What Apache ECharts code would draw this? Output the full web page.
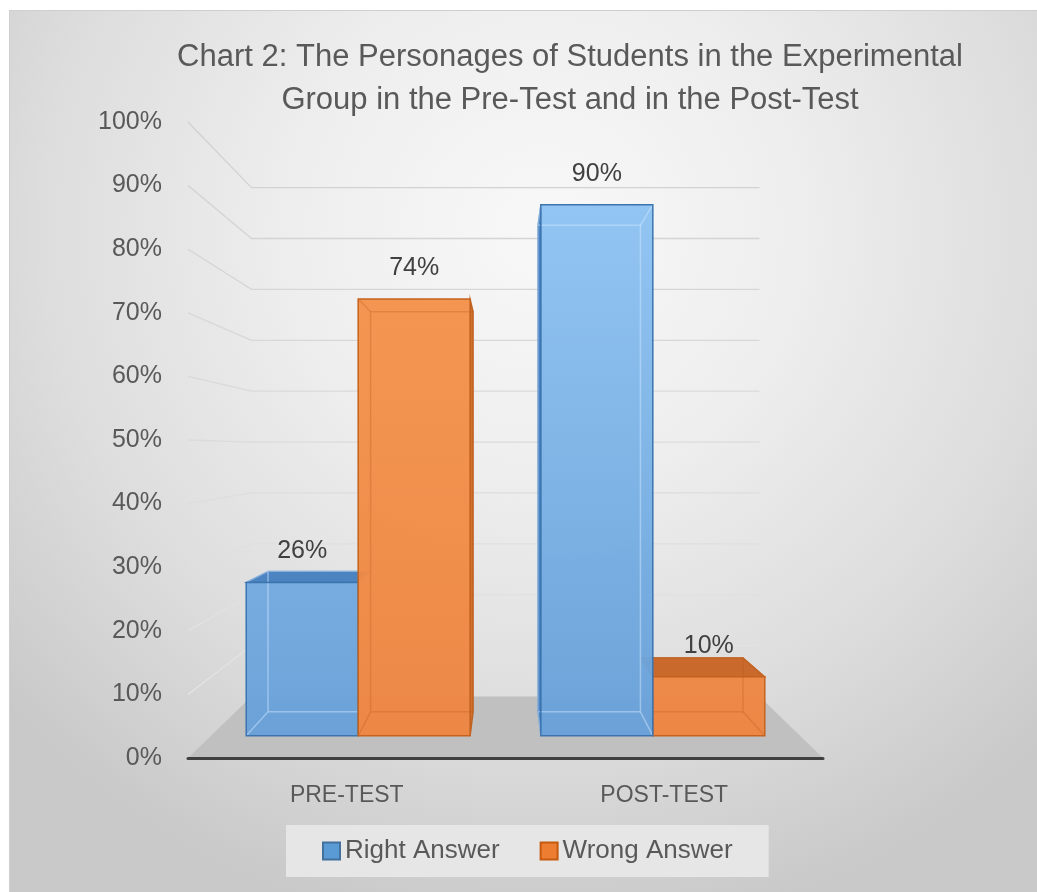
<!DOCTYPE html>
<html>
<head>
<meta charset="utf-8">
<title>Chart 2</title>
<script src="https://cdn.jsdelivr.net/npm/echarts@6/dist/echarts.min.js"></script>
<style>
	html, body { margin: 0; padding: 0; background: #fff; }
	#frame {
		position: absolute; left: 9px; top: 10px; width: 1028px; height: 882px;
		box-sizing: border-box; border-left: 1px solid #cfcfcf; border-top: 1px solid #cfcfcf;
		background: radial-gradient(ellipse 70% 80% at 52% 25%, #f8f8f8 0%, #eeeeee 35%, #dddddd 70%, #c9c9c9 100%);
	}
	#chart { position: absolute; left: 0; top: 0; width: 1037px; height: 892px; }
</style>
</head>
<body>
<div id="frame"></div>
<div id="chart"></div>
<script>
var categories = ['PRE-TEST', 'POST-TEST'];
var seriesNames = ['Right Answer', 'Wrong Answer'];
var rightAnswer = [26, 90];
var wrongAnswer = [74, 10];
var yTicks = [10, 20, 30, 40, 50, 60, 70, 80, 90, 100];
var titleLines = ['Chart 2: The Personages of Students in the Experimental', 'Group in the Pre-Test and in the Post-Test'];

// fake perspective: value level of the eye, and how far back walls / bars sit
var VIEW_LEVEL = 48.4;
var WALL_DEPTH = 0.8;
var BAR_FRONT = 0.928;
var BAR_BACK = 0.85;
var BAR_FRAC = 0.38;
var FONT = '"Liberation Sans", Arial, sans-serif';

var palette = [
	{ legend: '#5b9bd5', front: ['#94c8f6', '#67a0d8'], top: '#4c84c2', side: '#4c84c2', edge: '#3c74b0', inner: 'rgba(205,230,255,0.5)' },
	{ legend: '#ed7d31', front: ['#f6974f', '#ee8541'], top: '#c96a2c', side: '#d0712f', edge: '#c3631f', inner: 'rgba(185,90,30,0.3)' }
];

function project(p, s, vp) {
	return [vp[0] + s * (p[0] - vp[0]), vp[1] + s * (p[1] - vp[1])];
}

function vanish(params, api) {
	var cs = params.coordSys;
	return [cs.x + cs.width / 2, api.coord([0, VIEW_LEVEL])[1]];
}

function renderFloor(params, api) {
	var cs = params.coordSys;
	var vp = vanish(params, api);
	var y0 = api.coord([0, 0])[1];
	var l = [cs.x, y0], r = [cs.x + cs.width, y0];
	return {
		type: 'polygon',
		shape: { points: [l, r, project(r, WALL_DEPTH, vp), project(l, WALL_DEPTH, vp)] },
		style: { fill: '#c0c0c0' }
	};
}

function renderGridLine(params, api) {
	var cs = params.coordSys;
	var vp = vanish(params, api);
	var y = api.coord([0, api.value(1)])[1];
	return {
		type: 'polyline',
		shape: { points: [[cs.x, y], project([cs.x, y], WALL_DEPTH, vp), project([cs.x + cs.width, y], WALL_DEPTH, vp)] },
		style: {
			stroke: new echarts.graphic.LinearGradient(0, cs.y, 0, cs.y + cs.height,
				[{ offset: 0, color: '#d0d0d0' }, { offset: 1, color: '#e6e6e6' }], true),
			lineWidth: 1.3, fill: null
		}
	};
}

function makeBarRenderer(sIdx) {
	var pal = palette[sIdx];
	var last = palette.length - 1;
	return function (params, api) {
		var vp = vanish(params, api);
		var top = api.coord([api.value(0), api.value(1)]);
		var yb = api.coord([api.value(0), 0])[1];
		var yt = top[1];
		var w = api.size([1, 0])[0] * BAR_FRAC;
		var x0 = sIdx === 0 ? top[0] - w : top[0];
		var x1 = x0 + w;
		var F = function (x, y) { return project([x, y], BAR_FRONT, vp); };
		var B = function (x, y) { return project([x, y], BAR_BACK, vp); };
		var base = (1000 - Math.round(Math.abs((x0 + x1) / 2 - vp[0]))) * 10;
		var kids = [];

		if (yt > vp[1]) {
			kids.push({ type: 'polygon', z2: base + 1,
				shape: { points: [F(x0, yt), F(x1, yt), B(x1, yt), B(x0, yt)] },
				style: { fill: pal.top, stroke: pal.edge, lineWidth: 1.2 } });
		}
		if (sIdx === 0 && x0 > vp[0]) {
			kids.push({ type: 'polygon', z2: base + 2,
				shape: { points: [F(x0, yt), B(x0, yt), B(x0, yb), F(x0, yb)] },
				style: { fill: pal.side, stroke: pal.edge, lineWidth: 1.2 } });
		}
		if (sIdx === last && x1 < vp[0]) {
			kids.push({ type: 'polygon', z2: base + 2,
				shape: { points: [F(x1, yt), B(x1, yt), B(x1, yb), F(x1, yb)] },
				style: { fill: pal.side, stroke: pal.edge, lineWidth: 1.2 } });
		}
		var ft = F(x0, yt), fb = F(x1, yb);
		kids.push({ type: 'rect', z2: base + 3,
			shape: { x: ft[0], y: ft[1], width: fb[0] - ft[0], height: fb[1] - ft[1] },
			style: {
				fill: new echarts.graphic.LinearGradient(0, params.coordSys.y, 0, fb[1],
					[{ offset: 0, color: pal.front[0] }, { offset: 1, color: pal.front[1] }], true),
				opacity: 0.96
			} });
		// see-through inner edges of the box
		kids.push({ type: 'polyline', z2: base + 4,
			shape: { points: [B(x0, yb), B(x0, yt), B(x1, yt), B(x1, yb), B(x0, yb)] },
			style: { stroke: pal.inner, lineWidth: 1.5, fill: null } });
		[[x0, yt], [x1, yt], [x0, yb], [x1, yb]].forEach(function (c) {
			kids.push({ type: 'line', z2: base + 4,
				shape: { x1: F(c[0], c[1])[0], y1: F(c[0], c[1])[1], x2: B(c[0], c[1])[0], y2: B(c[0], c[1])[1] },
				style: { stroke: pal.inner, lineWidth: 1.5 } });
		});
		kids.push({ type: 'rect', z2: base + 5,
			shape: { x: ft[0], y: ft[1], width: fb[0] - ft[0], height: fb[1] - ft[1] },
			style: { fill: null, stroke: pal.edge, lineWidth: 1.5 } });
		kids.push({ type: 'text', z2: 50000,
			x: (ft[0] + fb[0]) / 2, y: ft[1] - 31,
			style: { text: api.value(1) + '%', align: 'center', verticalAlign: 'middle',
				font: '25px ' + FONT, fill: '#404040' } });
		return { type: 'group', children: kids };
	};
}

function toPoints(values) {
	return values.map(function (v, i) { return [i, v]; });
}

var chart = echarts.init(document.getElementById('chart'));
var option = {
	animation: false,
	backgroundColor: 'transparent',
	graphic: titleLines.map(function (t, i) {
		return { type: 'text', x: 570, y: 57 + i * 43,
			style: { text: t, align: 'center', verticalAlign: 'middle', font: '31px ' + FONT, fill: '#595959' } };
	}),
	legend: {
		data: seriesNames,
		left: 286, top: 825,
		padding: [13, 36],
		backgroundColor: '#e6e6e6',
		itemWidth: 17, itemHeight: 17, itemGap: 40,
		icon: 'rect',
		textStyle: { fontFamily: FONT, fontSize: 26, color: '#595959' }
	},
	grid: { left: 188, right: 214, top: 122, bottom: 134 },
	xAxis: {
		type: 'category',
		data: categories,
		z: 10,
		axisLine: { lineStyle: { color: '#404040', width: 3 } },
		axisTick: { show: false },
		axisLabel: { margin: 26, fontFamily: FONT, fontSize: 23, color: '#595959' },
		splitLine: { show: false }
	},
	yAxis: {
		type: 'value',
		min: 0, max: 100, interval: 10,
		axisLine: { show: false },
		axisTick: { show: false },
		splitLine: { show: false },
		axisLabel: { margin: 26, formatter: '{value}%', fontFamily: FONT, fontSize: 25, color: '#595959' }
	},
	series: [
		{ type: 'custom', name: 'floor', z: 1, silent: true, renderItem: renderFloor, data: [[0, 0]] },
		{ type: 'custom', name: 'wall', z: 1, silent: true, renderItem: renderGridLine, data: toPoints(yTicks).map(function (p) { return [0, p[1]]; }) },
		{ type: 'custom', name: seriesNames[0], z: 3, renderItem: makeBarRenderer(0), data: toPoints(rightAnswer),
			itemStyle: { color: palette[0].legend, borderColor: '#41719c', borderWidth: 1 } },
		{ type: 'custom', name: seriesNames[1], z: 3, renderItem: makeBarRenderer(1), data: toPoints(wrongAnswer),
			itemStyle: { color: palette[1].legend, borderColor: '#c55a11', borderWidth: 1 } }
	]
};
chart.setOption(option);
</script>
</body>
</html>
